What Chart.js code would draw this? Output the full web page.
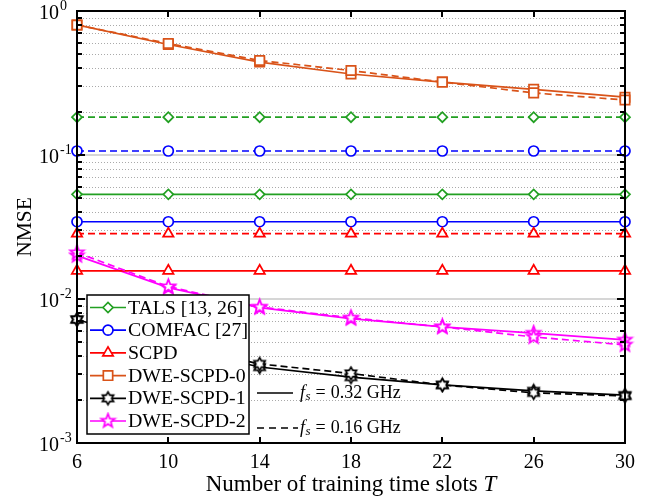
<!DOCTYPE html>
<html>
<head>
<meta charset="utf-8">
<script src="https://cdn.jsdelivr.net/npm/chart.js@4/dist/chart.umd.min.js"></script>
<style>
  html, body { margin: 0; padding: 0; background: #fff; }
</style>
</head>
<body>
<canvas id="c" width="645" height="499"></canvas>
<script>
// Training time slots T
const slots = [6, 10, 14, 18, 22, 26, 30];
const xTicks = [6, 10, 14, 18, 22, 26, 30];

// NMSE, solid = fs 0.32 GHz, dashed = fs 0.16 GHz
const tals032   = [0.0533, 0.0533, 0.0533, 0.0533, 0.0533, 0.0533, 0.0533];
const tals016   = [0.183, 0.183, 0.183, 0.183, 0.183, 0.183, 0.183];
const comfac032 = [0.0344, 0.0344, 0.0344, 0.0344, 0.0344, 0.0344, 0.0344];
const comfac016 = [0.1066, 0.1066, 0.1066, 0.1066, 0.1066, 0.1066, 0.1066];
const scpd032   = [0.0157, 0.0157, 0.0157, 0.0157, 0.0157, 0.0157, 0.0157];
const scpd016   = [0.0284, 0.0284, 0.0284, 0.0284, 0.0284, 0.0284, 0.0284];
const dwe0_032  = [0.80, 0.585, 0.442, 0.365, 0.321, 0.286, 0.252];
const dwe0_016  = [0.80, 0.595, 0.453, 0.386, 0.321, 0.270, 0.241];
const dwe1_032  = [0.0072, 0.0047, 0.00337, 0.00287, 0.00253, 0.0023, 0.00215];
const dwe1_016  = [0.0072, 0.0049, 0.00354, 0.00304, 0.00253, 0.00223, 0.00212];
const dwe2_032  = [0.0200, 0.0120, 0.0087, 0.0073, 0.0064, 0.0058, 0.0052];
const dwe2_016  = [0.0210, 0.0122, 0.0088, 0.0074, 0.0064, 0.00545, 0.0048];

const seriesNames = ['TALS [13, 26]', 'COMFAC [27]', 'SCPD', 'DWE-SCPD-0', 'DWE-SCPD-1', 'DWE-SCPD-2'];
const decadeExps = [0, -1, -2, -3];

const SERIF = '"Liberation Serif", "Times New Roman", serif';
const GREEN = '#22a022', BLUE = '#0000ff', RED = '#ff0000', ORANGE = '#d95319', BLACK = '#000000', MAGENTA = '#ff00ff';

// Outlined star markers drawn onto small canvases
function makeStar(nPoints, innerRatio, outerR, color) {
  const size = Math.ceil(outerR * 2 + 4);
  const cv = document.createElement('canvas');
  cv.width = size; cv.height = size;
  const g = cv.getContext('2d');
  const c = size / 2;
  g.beginPath();
  for (let i = 0; i < nPoints * 2; i++) {
    const r = i % 2 === 0 ? outerR : outerR * innerRatio;
    const a = -Math.PI / 2 + i * Math.PI / nPoints;
    const px = c + r * Math.cos(a), py = c + r * Math.sin(a);
    if (i === 0) g.moveTo(px, py); else g.lineTo(px, py);
  }
  g.closePath();
  g.fillStyle = '#fff';
  g.fill();
  g.lineWidth = 1.7;
  g.strokeStyle = color;
  g.lineJoin = 'miter';
  g.stroke();
  return cv;
}
const hexagram = makeStar(6, 0.577, 6.4, BLACK);
const pentagram = makeStar(5, 0.42, 7.2, MAGENTA);

const styles = [
  { color: GREEN,   point: 'rectRot',  r: 5 },
  { color: BLUE,    point: 'circle',   r: 5 },
  { color: RED,     point: 'triangle', r: 6 },
  { color: ORANGE,  point: 'rect',     r: 6.6 },
  { color: BLACK,   point: hexagram,   r: 6 },
  { color: MAGENTA, point: pentagram,  r: 6 }
];
const solidData  = [tals032, comfac032, scpd032, dwe0_032, dwe1_032, dwe2_032];
const dashedData = [tals016, comfac016, scpd016, dwe0_016, dwe1_016, dwe2_016];

function ds(i, values, dashed) {
  const s = styles[i];
  return {
    label: seriesNames[i] + (dashed ? ' (0.16 GHz)' : ''),
    data: slots.map((t, k) => ({ x: t, y: values[k] })),
    borderColor: s.color,
    borderWidth: 1.7,
    borderDash: dashed ? [7, 4] : [],
    pointStyle: s.point,
    pointRadius: s.r,
    pointBorderWidth: 1.7,
    pointBorderColor: s.color,
    pointBackgroundColor: '#fff',
    tension: 0,
    clip: false
  };
}
const datasets = [];
for (let i = 0; i < 6; i++) { datasets.push(ds(i, dashedData[i], true)); }
for (let i = 0; i < 6; i++) { datasets.push(ds(i, solidData[i], false)); }

// Draws a legend marker the same way the dataset draws its points
function legendMarker(ctx, s, x, y) {
  ctx.save();
  ctx.lineWidth = 1.7;
  ctx.strokeStyle = s.color;
  ctx.fillStyle = '#fff';
  Chart.helpers.drawPoint(ctx, { pointStyle: s.point, radius: s.r, borderWidth: 1.7, rotation: 0 }, x, y);
  ctx.restore();
}

function fsLabel(ctx, x, y, value) {
  ctx.textBaseline = 'middle';
  ctx.textAlign = 'left';
  ctx.fillStyle = '#000';
  ctx.font = 'italic 18px ' + SERIF;
  ctx.fillText('f', x, y);
  let cx = x + ctx.measureText('f').width + 0.5;
  ctx.font = 'italic 13px ' + SERIF;
  ctx.fillText('s', cx, y + 4);
  cx += ctx.measureText('s').width + 5;
  ctx.font = '18px ' + SERIF;
  ctx.fillText('=', cx, y);
  cx += ctx.measureText('=').width + 5;
  ctx.fillText(value + ' GHz', cx, y);
}

const decor = {
  id: 'decor',
  beforeDatasetsDraw(chart) {
    const { ctx, chartArea: a, scales: { y } } = chart;
    ctx.save();
    // minor grid (dotted)
    ctx.lineWidth = 1;
    ctx.strokeStyle = '#aaaaaa';
    ctx.setLineDash([1, 2]);
    for (let e = -3; e < 0; e++) {
      for (let m = 2; m <= 9; m++) {
        const py = Math.round(y.getPixelForValue(m * Math.pow(10, e))) + 0.5;
        ctx.beginPath(); ctx.moveTo(a.left, py); ctx.lineTo(a.right, py); ctx.stroke();
      }
    }
    // decade grid (solid, light)
    ctx.setLineDash([]);
    ctx.strokeStyle = '#d6d6d6';
    ctx.lineWidth = 2;
    [-1, -2].forEach(e => {
      const py = Math.round(y.getPixelForValue(Math.pow(10, e)));
      ctx.beginPath(); ctx.moveTo(a.left, py); ctx.lineTo(a.right, py); ctx.stroke();
    });
    ctx.restore();
  },
  afterDatasetsDraw(chart) {
    const { ctx } = chart;
    ctx.save();
    // legend box
    const lx = 87, ly = 295, lw = 162, lh = 139;
    ctx.fillStyle = '#fff';
    ctx.fillRect(lx, ly, lw, lh);
    ctx.lineWidth = 1.5;
    ctx.strokeStyle = '#000';
    ctx.strokeRect(lx, ly, lw, lh);
    for (let i = 0; i < 6; i++) {
      const ry = 307.5 + i * 22.7;
      const s = styles[i];
      ctx.strokeStyle = s.color;
      ctx.lineWidth = 1.7;
      ctx.beginPath(); ctx.moveTo(90, ry); ctx.lineTo(126, ry); ctx.stroke();
      legendMarker(ctx, s, 108, ry);
      ctx.fillStyle = '#000';
      ctx.font = '19.8px ' + SERIF;
      ctx.textAlign = 'left';
      ctx.textBaseline = 'middle';
      ctx.fillText(seriesNames[i], 128, ry + 1);
    }
    // sampling-frequency key
    ctx.strokeStyle = '#000';
    ctx.lineWidth = 1.7;
    ctx.beginPath(); ctx.moveTo(257, 393); ctx.lineTo(293, 393); ctx.stroke();
    ctx.setLineDash([7, 5]);
    ctx.beginPath(); ctx.moveTo(257, 428); ctx.lineTo(298, 428); ctx.stroke();
    ctx.setLineDash([]);
    fsLabel(ctx, 300, 393, '0.32');
    fsLabel(ctx, 300, 428, '0.16');
    ctx.restore();
  },
  afterDraw(chart) {
    const { ctx, chartArea: a, scales: { x, y } } = chart;
    ctx.save();
    ctx.strokeStyle = '#000';
    ctx.lineWidth = 2;
    // inward tick marks
    ctx.beginPath();
    for (let e = -3; e < 0; e++) {
      for (let m = 1; m <= 9; m++) {
        const py = Math.round(y.getPixelForValue(m * Math.pow(10, e)));
        const len = m === 1 ? 8 : 5;
        ctx.moveTo(a.left, py); ctx.lineTo(a.left + len, py);
        ctx.moveTo(a.right, py); ctx.lineTo(a.right - len, py);
      }
    }
    xTicks.forEach(t => {
      const px = Math.round(x.getPixelForValue(t));
      ctx.moveTo(px, a.top); ctx.lineTo(px, a.top + 6);
      ctx.moveTo(px, a.bottom); ctx.lineTo(px, a.bottom - 6);
    });
    ctx.stroke();
    // axes box
    ctx.strokeRect(a.left, a.top, a.right - a.left, a.bottom - a.top);

    // y tick labels 10^n
    ctx.fillStyle = '#000';
    decadeExps.forEach(e => {
      const py = y.getPixelForValue(Math.pow(10, e));
      ctx.font = '20px ' + SERIF;
      ctx.textAlign = 'right';
      ctx.textBaseline = 'middle';
      ctx.fillText('10', 59, py + 3);
      ctx.font = '14px ' + SERIF;
      ctx.textAlign = 'left';
      ctx.fillText(e === 0 ? '0' : '-' + (-e), 60, py - 5);
    });

    // axis titles
    ctx.save();
    ctx.translate(25, (a.top + a.bottom) / 2);
    ctx.rotate(-Math.PI / 2);
    ctx.font = '21.5px ' + SERIF;
    ctx.textAlign = 'center';
    ctx.textBaseline = 'middle';
    ctx.fillText('NMSE', 0, 0);
    ctx.restore();

    const part1 = 'Number of training time slots ';
    ctx.font = '23px ' + SERIF;
    const w1 = ctx.measureText(part1).width;
    ctx.font = 'italic 23px ' + SERIF;
    const w2 = ctx.measureText('T').width;
    const cx = (a.left + a.right) / 2;
    let sx = cx - (w1 + w2) / 2;
    ctx.textAlign = 'left';
    ctx.textBaseline = 'middle';
    ctx.font = '23px ' + SERIF;
    ctx.fillText(part1, sx, 485);
    ctx.font = 'italic 23px ' + SERIF;
    ctx.fillText('T', sx + w1, 485);
    ctx.restore();
  }
};

new Chart(document.getElementById('c'), {
  type: 'line',
  data: { datasets },
  options: {
    responsive: false,
    animation: false,
    devicePixelRatio: 1,
    layout: { padding: { top: 11, right: 20, left: 0, bottom: 0 } },
    plugins: { legend: { display: false }, tooltip: { enabled: false } },
    scales: {
      x: {
        type: 'linear',
        min: 6, max: 30,
        afterBuildTicks: s => { s.ticks = xTicks.map(v => ({ value: v })); },
        afterFit: s => { s.height = 56; },
        grid: { display: false, drawTicks: false },
        border: { display: false },
        ticks: {
          color: '#000',
          padding: 8,
          maxRotation: 0,
          font: { family: SERIF, size: 20 }
        }
      },
      y: {
        type: 'logarithmic',
        min: 0.001, max: 1,
        afterFit: s => { s.width = 77; },
        grid: { display: false, drawTicks: false },
        border: { display: false },
        ticks: { display: false }
      }
    }
  },
  plugins: [decor]
});
</script>
</body>
</html>
